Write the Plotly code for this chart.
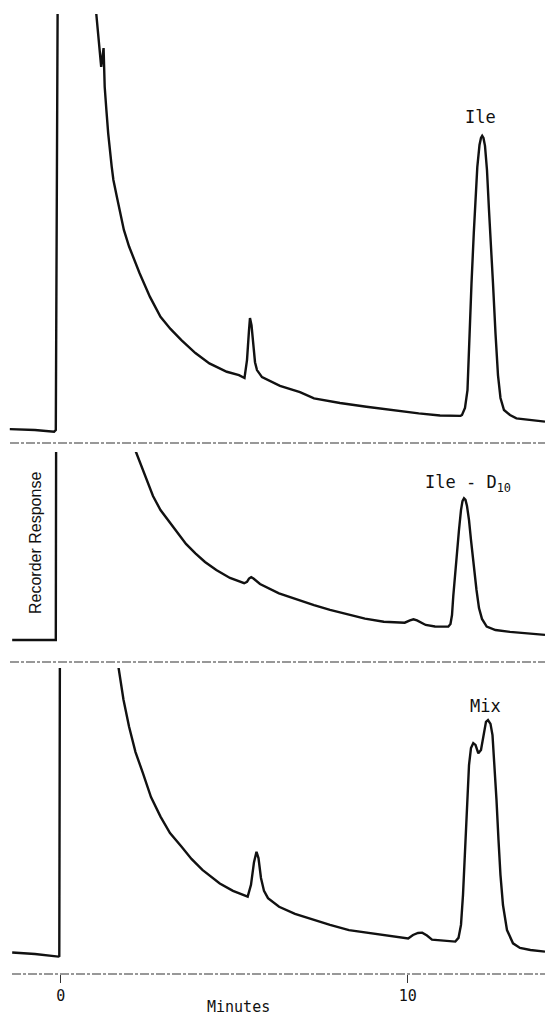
import plotly.graph_objects as go

# ---------------- data (minutes, recorder response in % of chart span) ----------------
top_time = [-1.467, -0.744, -0.190, -0.141, -0.076, 0.746,
            1.026, 1.167, 1.236, 1.268, 1.317, 1.369, 1.470, 1.519, 1.620, 1.720,
            1.821, 1.971, 2.274, 2.573, 2.876, 3.164, 3.478, 3.882, 4.285, 4.787,
            5.138, 5.297, 5.369, 5.427, 5.455, 5.499, 5.542, 5.600, 5.657, 5.801,
            6.320, 6.896, 7.300, 8.049, 8.810, 9.490, 10.317, 10.931, 11.524,
            11.565, 11.651, 11.723, 11.775, 11.839, 11.905, 11.957, 12.006, 12.069,
            12.112, 12.147, 12.184, 12.228, 12.285, 12.343, 12.386, 12.458, 12.530,
            12.602, 12.674, 12.775, 12.948, 13.133, 13.957]
top_response = [0.2, 0.0, -0.4, 0.0, 125, 125,
                100, 87.3, 91.8, 82.5, 76.9, 71.3, 63.3, 60.1, 56.0, 52.1,
                48.1, 44.1, 37.7, 32.0, 27.2, 24.3, 21.6, 18.5, 16.0, 14.0,
                13.2, 12.5, 16.8, 24.0, 26.9, 25.2, 20.4, 16.3, 14.4, 12.7,
                10.6, 9.1, 7.6, 6.5, 5.6, 4.8, 4.0, 3.5, 3.4,
                3.6, 5.3, 9.6, 23.3, 35.3, 47.4, 55.3, 63.2, 68.5,
                70.2, 70.7, 70.2, 68.3, 62.5, 52.9, 46.9, 35.3, 23.3,
                13.2, 7.7, 4.8, 3.6, 2.8, 2.0]

middle_time = [-1.398, -0.141, -0.130, 1.671,
               2.170, 2.473, 2.660, 2.876, 3.127, 3.380, 3.611, 3.882, 4.159, 4.484,
               4.879, 5.288, 5.369, 5.427, 5.490, 5.556, 5.628, 5.744,
               6.291, 6.752, 7.300, 7.761, 8.308, 8.769, 9.311, 9.914,
               10.066, 10.167, 10.268, 10.519, 10.787, 11.026, 11.170,
               11.233, 11.277, 11.314, 11.363, 11.421, 11.478, 11.536, 11.579,
               11.622, 11.666, 11.709, 11.767, 11.824, 11.896, 11.983, 12.055,
               12.141, 12.277, 12.530, 12.948, 13.334, 13.957]
middle_response = [0.0, 0.0, 125, 125,
                   100, 85.1, 76.6, 69.1, 62.8, 56.8, 51.1, 46.1, 41.5, 37.2,
                   33.0, 30.2, 30.9, 32.7, 33.4, 32.7, 31.4, 29.8,
                   24.8, 21.8, 18.6, 16.0, 13.3, 11.4, 9.7, 9.2,
                   10.4, 11.0, 10.4, 8.0, 7.2, 6.9, 7.1,
                   8.5, 13.3, 23.4, 34.6, 46.3, 58.5, 69.1, 73.9,
                   75.4, 74.5, 71.3, 63.8, 53.2, 39.9, 26.6, 17.0,
                   11.2, 7.1, 5.3, 4.3, 3.6, 2.7]

bottom_time = [-1.398, -0.741, -0.069, -0.040, -0.020, 1.294,
               1.669, 1.810, 1.971, 2.156, 2.372, 2.602, 2.876, 3.150, 3.478,
               3.769, 4.084, 4.585, 4.965, 5.389, 5.484, 5.571, 5.643, 5.700,
               5.772, 5.859, 5.974, 6.294, 6.752, 7.300, 7.761, 8.308, 9.311,
               10.014, 10.153, 10.297, 10.418, 10.556, 10.700, 10.821, 11.372,
               11.464, 11.536, 11.594, 11.651, 11.709, 11.767, 11.824, 11.890,
               11.954, 12.035, 12.112, 12.184, 12.256, 12.314, 12.386, 12.444,
               12.501, 12.559, 12.617, 12.674, 12.746, 12.862, 13.035, 13.236,
               13.536, 13.957]
bottom_response = [1.2, 0.7, -0.2, 0.0, 125, 125,
                   100, 89.0, 79.6, 70.8, 63.4, 55.2, 48.4, 42.7, 38.0,
                   33.7, 29.9, 25.2, 22.6, 20.6, 24.7, 32.6, 36.2, 34.0,
                   27.1, 22.6, 20.1, 17.1, 14.6, 12.5, 10.8, 9.0, 7.3,
                   6.1, 7.3, 8.0, 8.1, 7.1, 5.7, 5.6, 5.0,
                   6.3, 10.8, 21.2, 36.8, 54.2, 66.3, 72.2, 73.9,
                   73.3, 70.4, 71.5, 76.7, 81.3, 81.9, 80.6, 76.7,
                   66.3, 54.2, 40.3, 28.1, 17.7, 9.0, 4.4, 2.8,
                   2.1, 1.5]

peak_labels = ["Ile", "Ile - D<sub>10</sub>", "Mix"]
peak_label_time = [12.11, 11.74, 12.23]
peak_label_response = [75.2, 83.5, 86.8]

x_tick_values = [0, 10]
x_tick_labels = ["0", "10"]
x_title = "Minutes"
y_title = "Recorder Response"

# ---------------- figure ----------------
W, H = 545, 1018


def fy(px):
    return 1 - px / H


line_style = dict(color="#111111", width=2.4, shape="linear")

fig = go.Figure()
fig.add_trace(go.Scatter(x=top_time, y=top_response, mode="lines", line=line_style,
                         xaxis="x", yaxis="y", showlegend=False, hoverinfo="skip"))
fig.add_trace(go.Scatter(x=middle_time, y=middle_response, mode="lines", line=line_style,
                         xaxis="x", yaxis="y2", showlegend=False, hoverinfo="skip"))
fig.add_trace(go.Scatter(x=bottom_time, y=bottom_response, mode="lines", line=line_style,
                         xaxis="x", yaxis="y3", showlegend=False, hoverinfo="skip"))

mono = "DejaVu Sans Mono, Liberation Mono, monospace"
sans = "Liberation Sans, Arial, sans-serif"

annotations = []
for txt, t, v, ref in zip(peak_labels, peak_label_time, peak_label_response, ["y", "y2", "y3"]):
    annotations.append(dict(text=txt, x=t, y=v, xref="x", yref=ref, showarrow=False,
                            xanchor="center", yanchor="middle",
                            font=dict(family=mono, size=17, color="#111111")))
annotations.append(dict(text=y_title, x=35 / W, y=fy(543), xref="paper", yref="paper",
                        showarrow=False, textangle=-90, xanchor="center", yanchor="middle",
                        font=dict(family=sans, size=16, color="#111111")))
annotations.append(dict(text=x_title, x=238 / W, y=fy(1017), xref="paper", yref="paper",
                        showarrow=False, xanchor="center", yanchor="bottom", borderpad=0,
                        font=dict(family=mono, size=15, color="#111111")))

shapes = []
for px_y, x0 in [(443, 10), (662, 10), (974, 12)]:
    shapes.append(dict(type="line", xref="paper", yref="paper", x0=x0 / W, x1=1,
                       y0=fy(px_y), y1=fy(px_y),
                       line=dict(color="#333333", width=1.2, dash="9px,2px,3px,2px")))

hidden_y = dict(showgrid=False, zeroline=False, showticklabels=False, showline=False,
                ticks="", fixedrange=True)

fig.update_layout(
    width=W, height=H,
    margin=dict(l=0, r=0, t=0, b=0),
    paper_bgcolor="white", plot_bgcolor="white",
    xaxis=dict(range=[-1.749, 13.957], domain=[0, 1], anchor="y3",
               tickvals=x_tick_values, ticktext=x_tick_labels,
               ticks="outside", ticklen=8, tickwidth=1.2, tickcolor="#333333",
               showgrid=False, zeroline=False, showline=False,
               tickfont=dict(family=mono, size=15, color="#111111")),
    yaxis=dict(domain=[fy(443), fy(14)], range=[-3.125, 100], **hidden_y),
    yaxis2=dict(domain=[fy(658), fy(452)], range=[-9.574, 100], **hidden_y),
    yaxis3=dict(domain=[fy(974), fy(668)], range=[-6.25, 100], **hidden_y),
    annotations=annotations,
    shapes=shapes,
)

fig.write_html("out.html")
